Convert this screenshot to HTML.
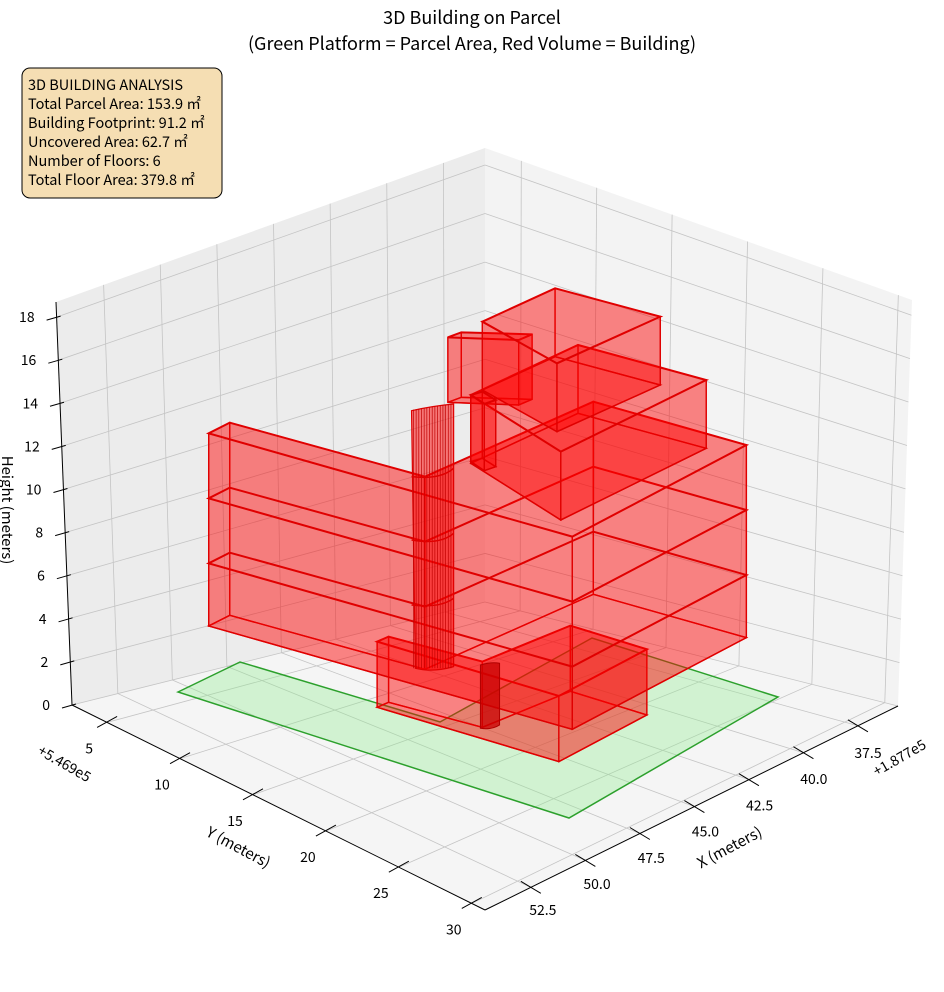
<!DOCTYPE html>
<html><head><meta charset="utf-8"><style>
html,body{margin:0;padding:0;background:#fff;}
svg{display:block;font-family:"Noto Sans CJK JP","Liberation Sans",sans-serif;}
</style></head><body>
<svg id="s" width="944" height="992" viewBox="0 0 944 992" xmlns="http://www.w3.org/2000/svg">
<g id="panes"></g>
<g id="grid" stroke="#c4c4c4" stroke-width="0.8" fill="none"></g>
<g id="axes" stroke="#000" stroke-width="1" fill="none"></g>
<polygon points="178,692 240,662 440,722 592,638 778,697 569,818" fill="rgba(144,238,144,0.35)" stroke="#2ca02c" stroke-width="1.5"/>
<g id="bld" transform="translate(180,280) scale(0.3827,0.3333)"></g>
<g id="labels" font-size="14" fill="#000"></g>
<text x="472" y="24" text-anchor="middle" font-size="18">3D Building on Parcel</text>
<text x="472" y="50" text-anchor="middle" font-size="18">(Green Platform = Parcel Area, Red Volume = Building)</text>
<rect x="22" y="68" width="200" height="130" rx="8" fill="#f5deb3" stroke="#000" stroke-width="1"/>
<g font-size="14.5" fill="#000">
<text x="28" y="90">3D BUILDING ANALYSIS</text>
<text x="28" y="109">Total Parcel Area: 153.9 ㎡</text>
<text x="28" y="128">Building Footprint: 91.2 ㎡</text>
<text x="28" y="147">Uncovered Area: 62.7 ㎡</text>
<text x="28" y="166">Number of Floors: 6</text>
<text x="28" y="185">Total Floor Area: 379.8 ㎡</text>
</g>
</svg>
<script>
var NS="http://www.w3.org/2000/svg";
function el(p,t,a){var e=document.createElementNS(NS,t);for(var k in a)e.setAttribute(k,a[k]);p.appendChild(e);return e;}
function L(a,b,t){return [a[0]+(b[0]-a[0])*t,a[1]+(b[1]-a[1])*t];}
var A=[72,705],B=[485,602],C=[485,148],D=[56,302],E=[898,706],F=[912,300],G=[485,910];
var P=document.getElementById('panes'),Gr=document.getElementById('grid'),Ax=document.getElementById('axes'),Lb=document.getElementById('labels');
function poly(p,pts,a){a.points=pts.map(function(q){return q.join(',')}).join(' ');return el(p,'polygon',a);}
poly(P,[A,B,C,D],{fill:'#ececec'});
poly(P,[B,E,F,C],{fill:'#f3f3f3'});
poly(P,[A,B,E,G],{fill:'#f5f5f5'});
function line(p,a,b,at){at=at||{};at.x1=a[0];at.y1=a[1];at.x2=b[0];at.y2=b[1];return el(p,'line',at);}
var xt=[],yt=[],zt=[];
for(var i=0;i<7;i++)xt.push(0.097+i*0.132);
for(var i=0;i<6;i++)yt.push(0.085+i*0.1766);
for(var i=0;i<10;i++)zt.push(i*2/18.7);
xt.forEach(function(t){line(Gr,L(E,G,t),L(B,A,t));line(Gr,L(B,A,t),L(C,D,t));});
yt.forEach(function(s){line(Gr,L(A,G,s),L(B,E,s));line(Gr,L(B,E,s),L(C,F,s));});
zt.forEach(function(f){line(Gr,L(A,D,f),L(B,C,f));line(Gr,L(B,C,f),L(E,F,f));});
line(Ax,A,G);line(Ax,G,E);line(Ax,A,D);
xt.forEach(function(t){var p=L(E,G,t);line(Ax,[p[0]-10,p[1]-6],[p[0]+10,p[1]+6]);});
yt.forEach(function(s){var p=L(A,G,s);line(Ax,[p[0]+10,p[1]-6],[p[0]-10,p[1]+5]);});
zt.forEach(function(f){var p=L(A,D,f);line(Ax,[p[0]+4,p[1]-1],[p[0]-10,p[1]+3]);});
var xl=['37.5','40.0','42.5','45.0','47.5','50.0','52.5'];
xl.forEach(function(s,i){var t=el(Lb,'text',{x:868-i*54.2,y:758+i*26.2,'text-anchor':'middle'});t.textContent=s;});
var yl=['5','10','15','20','25','30'];
yl.forEach(function(s,i){var p=L(A,G,yt[i]);var t=el(Lb,'text',{x:p[0]-18,y:p[1]+31,'text-anchor':'middle'});t.textContent=s;});
zt.forEach(function(f,i){var p=L(A,D,f);var t=el(Lb,'text',{x:p[0]-22,y:p[1]+5,'text-anchor':'end'});t.textContent=String(i*2);});
var t;
t=el(Lb,'text',{x:0,y:0,transform:'translate(62,768) rotate(30)','text-anchor':'middle'});t.textContent='+5.469e5';
t=el(Lb,'text',{x:0,y:0,transform:'translate(902,762) rotate(-30)','text-anchor':'middle'});t.textContent='+1.877e5';
t=el(Lb,'text',{x:0,y:0,transform:'translate(236,852) rotate(28)','text-anchor':'middle','font-size':'15'});t.textContent='Y (meters)';
t=el(Lb,'text',{x:0,y:0,transform:'translate(732,852) rotate(-28)','text-anchor':'middle','font-size':'15'});t.textContent='X (meters)';
t=el(Lb,'text',{x:0,y:0,transform:'translate(2,510) rotate(90)','text-anchor':'middle','font-size':'15'});t.textContent='Height (meters)';
var Bd=document.getElementById('bld');
var FILL='rgba(255,0,0,0.27)',ST='#e00000';
function pts(a,dy){return a.map(function(q){return q[0]+','+(q[1]+dy)}).join(' ');}
function prism(T,d,floors,fill){
 fill=fill||FILL;
 el(Bd,'polygon',{points:pts(T,d),fill:fill,stroke:ST,'stroke-width':1.5,'vector-effect':'non-scaling-stroke'});
 for(var i=0;i<T.length;i++){var a=T[i],b=T[(i+1)%T.length];
  el(Bd,'polygon',{points:[a[0]+','+a[1],b[0]+','+b[1],b[0]+','+(b[1]+d),a[0]+','+(a[1]+d)].join(' '),fill:fill,stroke:ST,'stroke-width':1.3,'vector-effect':'non-scaling-stroke'});}
 (floors||[]).forEach(function(f){el(Bd,'polygon',{points:pts(T,f),fill:'none',stroke:ST,'stroke-width':2,'vector-effect':'non-scaling-stroke'});});
 el(Bd,'polygon',{points:pts(T,0),fill:fill,stroke:ST,'stroke-width':2,'vector-effect':'non-scaling-stroke'});
}
prism([[515,1085],[545,1070],[790,1145],[1020,1037],[1220,1108],[990,1248]],197);
prism([[75,460],[130,428],[640,590],[1080,365],[1480,495],[1025,770]],578,[195,390]);
prism([[760,345],[1040,195],[1375,300],[995,515]],205);
prism([[700,172],[735,157],[920,163],[885,180]],195);
prism([[760,345],[790,335],[825,360],[795,372]],200);
prism([[790,125],[980,25],[1255,110],[985,250]],205);
el(Bd,'path',{d:'M605,392 Q660,378 715,372 L715,1160 Q660,1178 615,1165 Z',fill:'rgba(255,0,0,0.5)',stroke:ST,'stroke-width':1.2,'vector-effect':'non-scaling-stroke'});
for(var x=610;x<715;x+=7){el(Bd,'line',{x1:x,y1:390-(x-605)*0.18,x2:x,y2:1165,stroke:'#c00000','stroke-width':0.7,'vector-effect':'non-scaling-stroke'});}
el(Bd,'path',{d:'M605,590 Q680,600 715,565 M605,780 Q680,795 715,760 M605,975 Q680,985 715,955',fill:'none',stroke:ST,'stroke-width':1.5,'vector-effect':'non-scaling-stroke'});
el(Bd,'path',{d:'M785,1155 Q815,1145 835,1150 L835,1335 Q815,1350 785,1345 Z',fill:'rgba(200,0,0,0.75)',stroke:'#b00000','stroke-width':1,'vector-effect':'non-scaling-stroke'});
</script>
</body></html>
